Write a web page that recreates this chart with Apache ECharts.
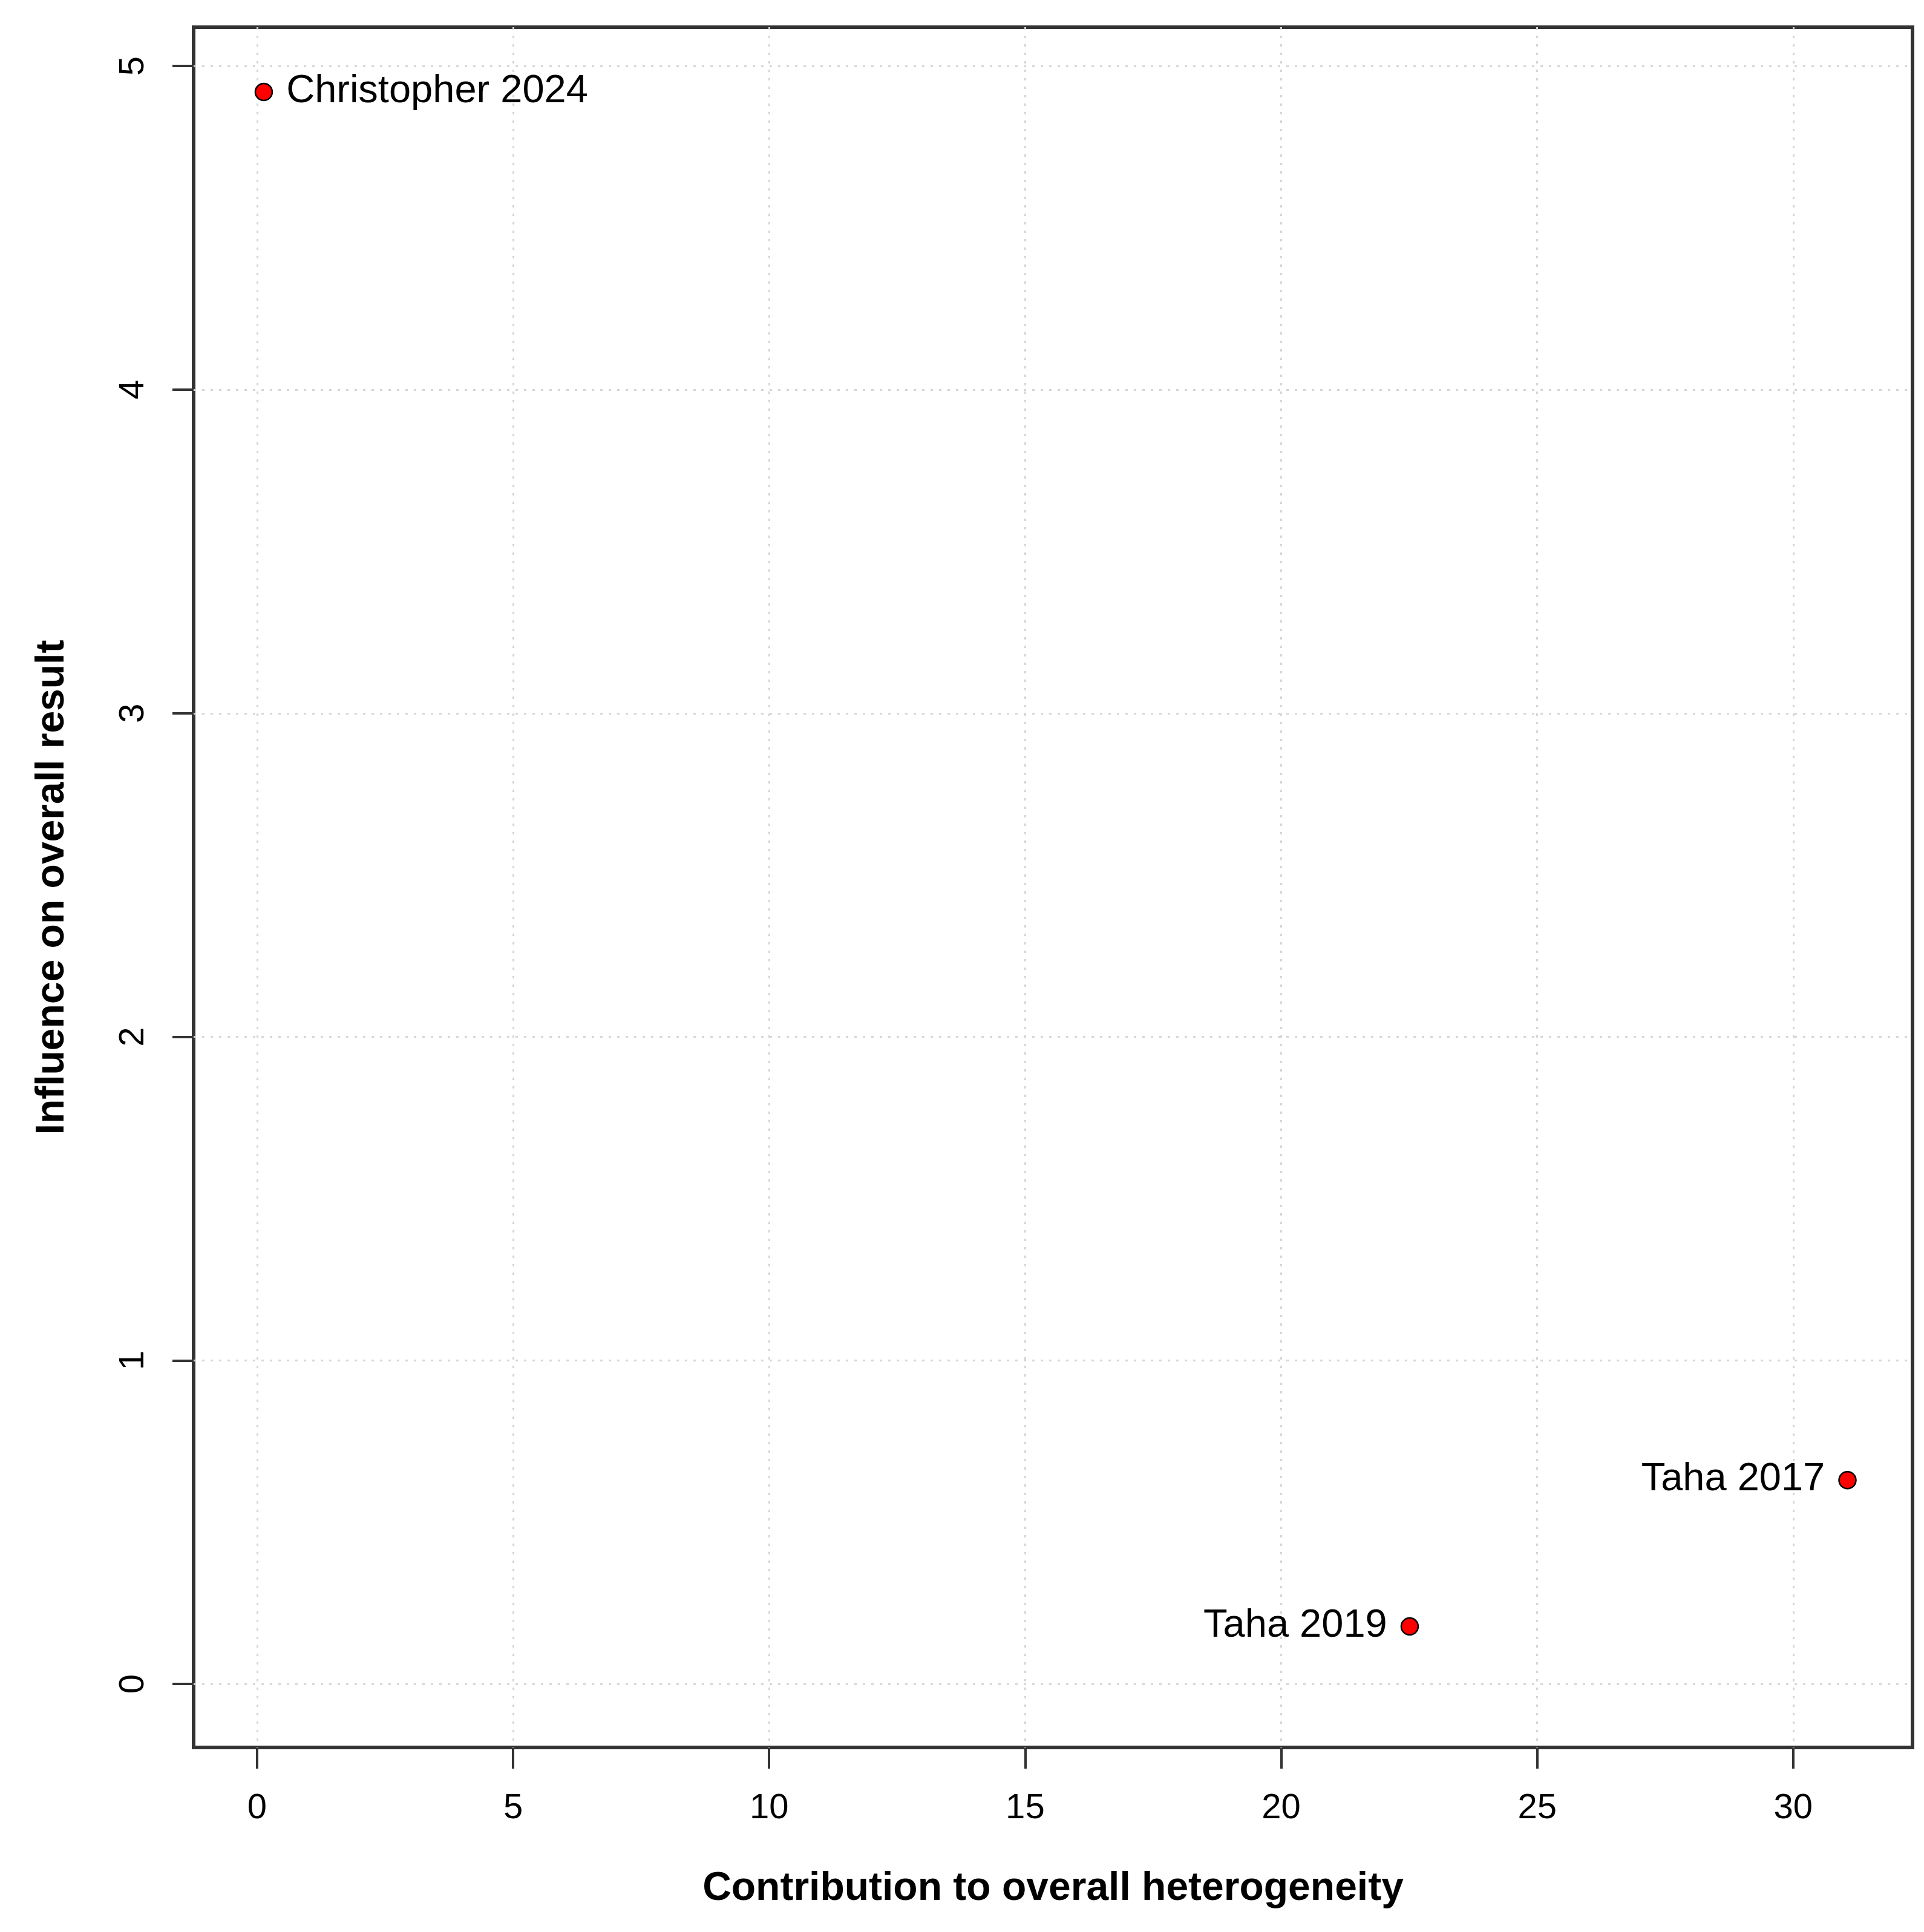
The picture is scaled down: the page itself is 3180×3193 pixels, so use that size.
<!DOCTYPE html>
<html>
<head>
<meta charset="utf-8">
<script src="https://cdn.jsdelivr.net/npm/echarts@6/dist/echarts.min.js"></script>
<style>
html,body{margin:0;padding:0;background:#fff;}
#chart{width:3180px;height:3193px;}
</style>
</head>
<body>
<div id="chart"></div>
<script>
// ---- data ----
const studies = ['Christopher 2024', 'Taha 2017', 'Taha 2019'];
const heterogeneity = [0.13, 31.06, 22.51];
const influence = [4.92, 0.63, 0.178];
const xTicks = [0, 5, 10, 15, 20, 25, 30];
const yTicks = [0, 1, 2, 3, 4, 5];
const xTitle = 'Contribution to overall heterogeneity';
const yTitle = 'Influence on overall result';

// ---- chart ----
const FONT = '"Liberation Sans", Arial, Helvetica, sans-serif';
const chart = echarts.init(document.getElementById('chart'), null, {renderer: 'canvas'});

const points = studies.map((name, i) => ({
  name: name,
  value: [heterogeneity[i], influence[i]],
  label: {position: heterogeneity[i] > 15 ? 'left' : 'right'}
}));

const axisCommon = {
  type: 'value',
  axisLine: {show: false, onZero: false},
  axisTick: {show: true, inside: false, length: 35, lineStyle: {color: '#333', width: 4}},
  splitLine: {show: true, lineStyle: {color: '#d6d6d6', width: 3, type: [4, 10]}},
  nameLocation: 'middle',
  nameTextStyle: {fontFamily: FONT, fontSize: 66, fontWeight: 'bold', color: '#000'}
};

chart.setOption({
  animation: false,
  backgroundColor: '#fff',
  grid: {
    left: 320, right: 19, top: 45, bottom: 305,
    show: true, borderColor: '#333', borderWidth: 6, backgroundColor: 'transparent'
  },
  xAxis: Object.assign({}, axisCommon, {
    min: -1.24, max: 32.33,
    name: xTitle, nameGap: 201,
    axisTick: Object.assign({}, axisCommon.axisTick, {customValues: xTicks}),
    axisLabel: {customValues: xTicks, margin: 72, fontFamily: FONT, fontSize: 58, color: '#000'}
  }),
  yAxis: Object.assign({}, axisCommon, {
    min: -0.196, max: 5.12,
    name: yTitle, nameGap: 200,
    axisTick: Object.assign({}, axisCommon.axisTick, {customValues: yTicks}),
    axisLabel: {customValues: yTicks, rotate: 90, margin: 70, fontFamily: FONT, fontSize: 58, color: '#000'}
  }),
  series: [{
    type: 'scatter',
    data: points,
    symbol: 'circle',
    symbolSize: 28,
    itemStyle: {color: '#ff0000', borderColor: '#000', borderWidth: 2.5, opacity: 1},
    label: {
      show: true,
      formatter: p => p.name,
      distance: 22,
      offset: [0, -1],
      fontFamily: FONT, fontSize: 65, color: '#000'
    },
    emphasis: {disabled: true}
  }]
});
</script>
</body>
</html>
